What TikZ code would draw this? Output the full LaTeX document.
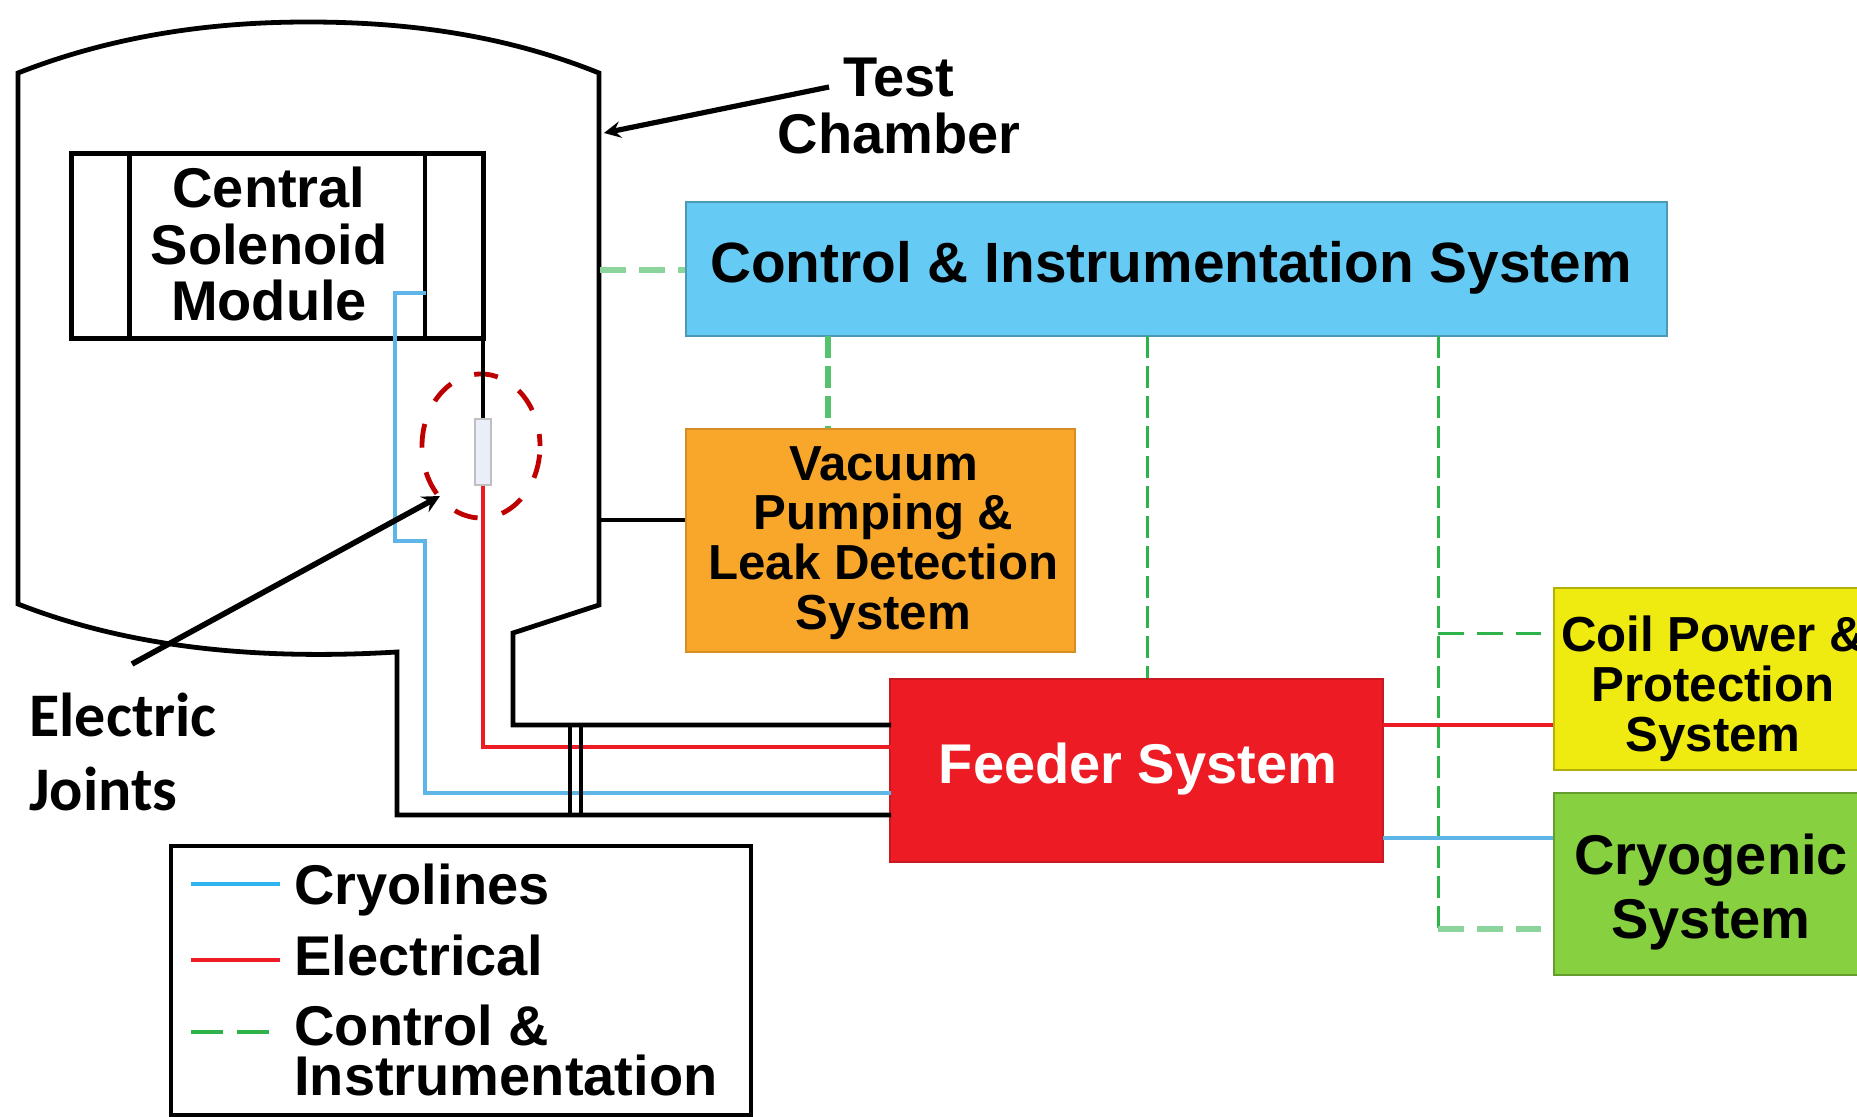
\documentclass[tikz,border=0pt]{standalone}
\usepackage{fontspec}
\setmainfont{Liberation Sans}
\newfontfamily\jointfont{Carlito}
\usetikzlibrary{shapes.geometric, arrows}
\definecolor{ctrlBlue}{HTML}{66CBF4}
\definecolor{vacOrange}{HTML}{F9A72B}
\definecolor{feedRed}{HTML}{ED1C24}
\definecolor{coilYellow}{HTML}{EFEB10}
\definecolor{cryoGreen}{HTML}{87D03F}
\definecolor{lineBlue}{HTML}{5DB5E8}
\definecolor{keyBlue}{HTML}{2DB5F0}
\definecolor{lineGreen}{HTML}{2DB34A}
\definecolor{jointFill}{HTML}{E9EEF8}
\tikzset{
    >=stealth, % arrow heads of the two pointers
    styleBox/.style={rectangle, inner sep=0pt, line width=1pt, align=center}, % every coloured system box
    styleLarge/.style={font=\fontsize{28}{28.4}\selectfont\bfseries, align=center, inner sep=0pt},
    styleSmall/.style={font=\fontsize{24.6}{24.9}\selectfont\bfseries, align=center, inner sep=0pt},
    styleWall/.style={line width=2.4pt, black, line join=miter},
    styleCryo/.style={line width=2.2pt, lineBlue},
    styleElec/.style={line width=2.2pt, feedRed},
    styleCtrl/.style={line width=1.5pt, lineGreen, dash pattern=on 11pt off 4pt},
    styleCtrlFlat/.style={line width=1.5pt, lineGreen, dash pattern=on 13pt off 6.5pt},
    styleCtrlWide/.style={line width=2.6pt, lineGreen!55!white, dash pattern=on 13pt off 6.5pt},
}
\begin{document}
\begin{tikzpicture}[x=0.5pt, y=-0.5pt]
    \useasboundingbox (0,0) rectangle (1857,1117);
    % system boxes
    \node[styleBox, styleLarge, draw=ctrlBlue!75!black, fill=ctrlBlue, minimum width=490.5pt, minimum height=67pt] (control) at (1176.5,269) {};
    \node[styleLarge, font=\fontsize{28.4}{28.4}\selectfont\bfseries] (controlText) at (1171,268) {Control \& Instrumentation System};
    \node[styleBox, styleSmall, draw=vacOrange!85!black, fill=vacOrange, minimum width=194.5pt, minimum height=111.5pt] (vacuum) at (880.5,540.5) {};
    \node[styleSmall] (vacuumText) at (883.5,543) {Vacuum\\Pumping \&\\Leak Detection\\System};
    \node[styleBox, draw=feedRed!85!black, fill=feedRed, minimum width=246.5pt, minimum height=91.5pt] (feeder) at (1136.5,770.5) {};
    \node[styleLarge, white] (feederText) at (1138,769) {Feeder System};
    \node[styleBox, draw=coilYellow!75!black, fill=coilYellow, minimum width=157pt, minimum height=91pt] (coil) at (1711,679) {};
    \node[styleSmall] (coilText) at (1713,689) {Coil Power \&\\Protection\\System};
    \node[styleBox, draw=cryoGreen!75!black, fill=cryoGreen, minimum width=157pt, minimum height=91pt] (cryo) at (1711,884) {};
    \node[font=\fontsize{28}{32}\selectfont\bfseries, align=center, inner sep=0pt] (cryoText) at (1711,892) {Cryogenic\\System};

    % test chamber outline
    \coordinate (feedTop) at (891,725);
    \coordinate (feedRedIn) at (891,747);
    \coordinate (feedBlueIn) at (891,793);
    \coordinate (feedLow) at (891,815);
    \draw[styleWall] (feedLow) -- (397,815) -- (397,652)
        .. controls (230,662) and (110,640) .. (18,604) -- (18,73)
        .. controls (120,33) and (220,22) .. (308,22)
        .. controls (400,22) and (500,33) .. (599,73)
        -- (599,605) -- (513,633) -- (513,725) -- (feedTop);

    % central solenoid module
    \node[rectangle, draw, line width=2.5pt, minimum width=206pt, minimum height=92.5pt] (module) at (277,246.5) {};
    \node[styleLarge] (moduleText) at (269,244) {Central\\Solenoid\\Module};
    \coordinate (moduleA) at (129.5,154);
    \coordinate (moduleB) at (129.5,339);
    \coordinate (moduleC) at (425,154);
    \coordinate (moduleD) at (425,339);
    \draw[line width=2.8pt] (moduleA) -- (moduleB);
    \draw[line width=2pt] (moduleC) -- (moduleD);

    % electric joint
    \node[rectangle, draw=gray!50, fill=jointFill, line width=0.8pt, minimum width=8pt, minimum height=33pt, inner sep=0pt] (joint) at (483,452) {};
    \node[ellipse, draw=red!75!black, line width=2.4pt, dash pattern=on 12pt off 12.5pt, dash phase=6pt, minimum width=59pt, minimum height=72pt, inner sep=0pt] (ring) at (481,446) {};
    \draw[line width=2.4pt] (joint.north |- module.south) -- (joint.north);
    \draw[styleElec] (joint.south) -- (483,747) -- (feedRedIn);
    \coordinate (cryoStart) at (426,293);
    \draw[styleCryo] (cryoStart) -- (395,293) -- (395,541) -- (425,541) -- (425,793) -- (feedBlueIn);

    % feeder lines through the wall
    \coordinate (busA) at (570,725);
    \coordinate (busB) at (570,815);
    \coordinate (busC) at (581,725);
    \coordinate (busD) at (581,815);
    \draw[line width=2.2pt] (busA) -- (busB);
    \draw[line width=2.2pt] (busC) -- (busD);

    % lines between the boxes
    \coordinate (wallCtrl) at (600,270);
    \coordinate (wallVac) at (600,520);
    \draw[styleCtrlWide] (wallCtrl) -- (control.west |- wallCtrl);
    \draw[line width=2pt] (wallVac) -- (vacuum.west |- wallVac);
    \coordinate (ctrlA) at (828,336);
    \coordinate (ctrlB) at (1147,336);
    \coordinate (ctrlC) at (1438,336);
    \coordinate (cornerCryo) at (1438,929);
    \coordinate (endCoil) at (1541,633);
    \coordinate (endCryo) at (1541,929);
    \draw[styleCtrlWide, lineGreen!80!white, dash pattern=on 11pt off 4pt] (ctrlA) -- (ctrlA |- vacuum.north);
    \draw[styleCtrl] (ctrlB) -- (ctrlB |- feeder.north);
    \draw[styleCtrl] (ctrlC) -- (cornerCryo);
    \draw[styleCtrlFlat] (ctrlC |- endCoil) -- (endCoil);
    \draw[styleCtrlWide] (cornerCryo) -- (endCryo);
    \coordinate (feedCoil) at (1383,725);
    \coordinate (feedCryo) at (1383,838);
    \draw[styleElec] (feedCoil) -- (coil.west |- feedCoil);
    \draw[styleCryo] (feedCryo) -- (cryo.west |- feedCryo);

    % pointers and their labels
    \node[styleLarge] (testText) at (899,106) {Test\\Chamber};
    \coordinate (testTail) at (829,87);
    \coordinate (testTip) at (604,133);
    \draw[->, line width=2.6pt] (testTail) -- (testTip);
    \coordinate (jointTail) at (132,664);
    \coordinate (jointTip) at (440,496);
    \draw[->, line width=2.8pt] (jointTail) -- (jointTip);
    \node[font=\fontsize{31}{37}\selectfont\jointfont\bfseries, align=left, inner sep=0pt, anchor=west] (jointText) at (29,752) {Electric\\Joints};

    % legend
    \node[rectangle, draw, line width=2pt, minimum width=290pt, minimum height=134.5pt] (legend) at (461,980.5) {};
    \coordinate (keyCryoA) at (191,884);
    \coordinate (keyCryoB) at (280,884);
    \coordinate (keyElecA) at (191,960);
    \coordinate (keyElecB) at (280,960);
    \coordinate (keyCtrlA) at (191,1032);
    \coordinate (keyCtrlB) at (270,1032);
    \draw[line width=2.2pt, keyBlue] (keyCryoA) -- (keyCryoB);
    \draw[styleElec] (keyElecA) -- (keyElecB);
    \draw[line width=2.2pt, lineGreen, dash pattern=on 16pt off 7pt] (keyCtrlA) -- (keyCtrlB);
    \node[styleLarge, anchor=west] (keyCryoText) at (294,890) {Cryolines};
    \node[styleLarge, anchor=west] (keyElecText) at (294,955) {Electrical};
    \node[styleLarge, anchor=west, align=left, font=\fontsize{28}{25}\selectfont\bfseries] (keyCtrlText) at (294,1050) {Control \&\\Instrumentation};
\end{tikzpicture}
\end{document}
